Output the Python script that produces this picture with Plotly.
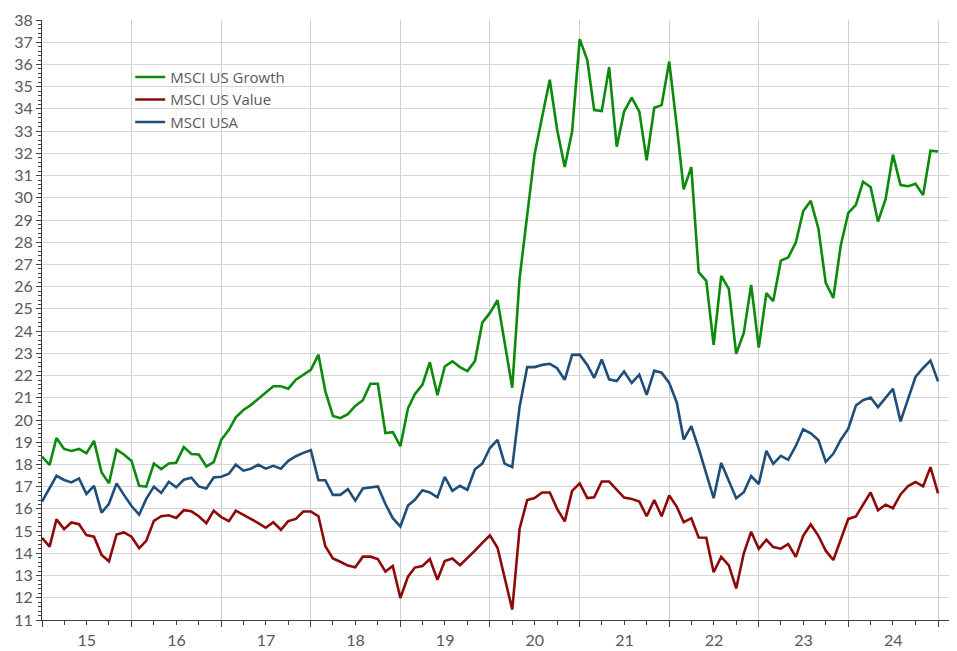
import pandas as pd
import plotly.graph_objects as go

# Monthly observations, Jan 2015 .. Jan 2025
dates = pd.date_range("2015-01-01", periods=121, freq="MS")

growth = [
    18.35, 17.98, 19.19, 18.70, 18.61, 18.70, 18.50, 19.06, 17.64, 17.15, 18.67, 18.45,
    18.16, 17.04, 17.00, 18.04, 17.79, 18.04, 18.08, 18.78, 18.47, 18.45, 17.91, 18.10,
    19.11, 19.56, 20.12, 20.45, 20.67, 20.97, 21.23, 21.52, 21.52, 21.41, 21.81, 22.04,
    22.26, 22.94, 21.30, 20.18, 20.08, 20.26, 20.63, 20.89, 21.63, 21.63, 19.41, 19.45,
    18.82, 20.52, 21.16, 21.59, 22.60, 21.12, 22.41, 22.64, 22.38, 22.20, 22.65, 24.38,
    24.82, 25.39, 23.50, 21.45, 26.38, 29.28, 31.95, 33.65, 35.31, 33.06, 31.38, 32.98,
    37.14, 36.20, 33.95, 33.90, 35.88, 32.30, 33.88, 34.51, 33.88, 31.69, 34.05, 34.17,
    36.13, 33.20, 30.38, 31.38, 26.65, 26.26, 23.38, 26.49, 25.90, 22.98, 23.92, 26.08,
    23.26, 25.71, 25.35, 27.17, 27.31, 27.99, 29.39, 29.86, 28.62, 26.17, 25.49, 27.84,
    29.32, 29.68, 30.72, 30.48, 28.93, 29.94, 31.94, 30.57, 30.52, 30.63, 30.12, 32.12,
    32.08,
]

value = [
    14.70, 14.30, 15.53, 15.09, 15.39, 15.31, 14.82, 14.75, 13.93, 13.64, 14.85, 14.94,
    14.75, 14.23, 14.56, 15.46, 15.67, 15.71, 15.59, 15.94, 15.89, 15.67, 15.36, 15.92,
    15.63, 15.45, 15.92, 15.74, 15.55, 15.36, 15.15, 15.40, 15.06, 15.45, 15.55, 15.88,
    15.88, 15.67, 14.32, 13.77, 13.62, 13.45, 13.37, 13.85, 13.85, 13.74, 13.18, 13.43,
    11.99, 12.95, 13.36, 13.43, 13.74, 12.81, 13.65, 13.77, 13.47, 13.77, 14.12, 14.47,
    14.81, 14.25, 12.88, 11.47, 15.11, 16.40, 16.49, 16.74, 16.74, 16.00, 15.44, 16.81,
    17.15, 16.49, 16.52, 17.23, 17.23, 16.87, 16.51, 16.45, 16.33, 15.67, 16.40, 15.67,
    16.60, 16.09, 15.40, 15.58, 14.71, 14.70, 13.15, 13.84, 13.46, 12.42, 14.00, 14.97,
    14.20, 14.61, 14.28, 14.21, 14.42, 13.84, 14.79, 15.30, 14.79, 14.12, 13.70, 14.61,
    15.55, 15.66, 16.19, 16.74, 15.94, 16.19, 16.03, 16.65, 17.03, 17.21, 17.01, 17.88,
    16.70,
]

usa = [
    16.33, 16.93, 17.49, 17.30, 17.19, 17.37, 16.67, 17.04, 15.83, 16.23, 17.15, 16.63,
    16.13, 15.74, 16.45, 17.00, 16.72, 17.22, 16.97, 17.31, 17.40, 17.01, 16.92, 17.41,
    17.45, 17.58, 17.99, 17.72, 17.81, 17.99, 17.81, 17.94, 17.81, 18.16, 18.37, 18.52,
    18.64, 17.29, 17.29, 16.63, 16.63, 16.89, 16.37, 16.92, 16.96, 17.01, 16.22, 15.58,
    15.21, 16.15, 16.41, 16.84, 16.74, 16.52, 17.44, 16.81, 17.04, 16.86, 17.78, 18.04,
    18.74, 19.11, 18.04, 17.88, 20.60, 22.38, 22.38, 22.48, 22.53, 22.33, 21.81, 22.93,
    22.94, 22.48, 21.90, 22.72, 21.83, 21.75, 22.18, 21.67, 22.04, 21.13, 22.22, 22.13,
    21.67, 20.78, 19.12, 19.72, 18.72, 17.61, 16.48, 18.07, 17.28, 16.48, 16.75, 17.48,
    17.12, 18.61, 18.03, 18.39, 18.21, 18.83, 19.58, 19.40, 19.10, 18.12, 18.48, 19.10,
    19.61, 20.65, 20.89, 21.01, 20.58, 21.01, 21.40, 19.94, 20.98, 21.94, 22.34, 22.67,
    21.74,
]

series_names = ["MSCI US Growth", "MSCI US Value", "MSCI USA"]
series_colors = ["#0b8a0b", "#8e0a0a", "#1f4e79"]

fig = go.Figure()
for name, vals, col in zip(series_names, [growth, value, usa], series_colors):
    fig.add_trace(go.Scatter(x=dates, y=vals, mode="lines", name=name,
                             line=dict(color=col, width=2.6)))

font_family = "Lato, 'Open Sans', sans-serif"
# the page body adds an 8px margin, so the figure is sized to fit the window
fig.update_layout(
    width=949, height=643,
    margin=dict(l=34, r=2, t=7, b=29),
    paper_bgcolor="white", plot_bgcolor="white",
    font=dict(family=font_family, size=16, color="#595959"),
    showlegend=True,
    legend=dict(x=0.0966, y=0.932, xanchor="left", yanchor="top",
                bgcolor="rgba(0,0,0,0)",
                font=dict(family="'Open Sans', sans-serif", size=15, color="#595959"),
                tracegroupgap=0),
)
fig.update_xaxes(
    type="date", range=["2015-01-01", "2025-03-11"],
    tick0="2015-01-01", dtick="M12", tickformat="%y", ticklabelmode="period",
    showgrid=True, gridcolor="#cbd1d1", gridwidth=1,
    showline=True, linecolor="#404040", linewidth=1,
    ticks="outside", ticklen=6, tickcolor="#404040",
    minor=dict(dtick="M3", tick0="2015-01-01", ticks="outside", ticklen=4,
               tickcolor="#404040", showgrid=False),
    tickfont=dict(size=16, color="#595959"),
    zeroline=False,
)
fig.update_yaxes(
    range=[11, 38], dtick=1, tick0=11,
    showgrid=True, gridcolor="#d6d6d6", gridwidth=1,
    showline=True, linecolor="#404040", linewidth=1,
    ticks="outside", ticklen=5, tickcolor="#404040",
    minor=dict(dtick=0.2, ticks="outside", ticklen=3, tickcolor="#404040", showgrid=False),
    tickfont=dict(size=16, color="#595959"),
    ticklabeloverflow="allow",
    zeroline=False,
)

fig.write_html("out.html")
